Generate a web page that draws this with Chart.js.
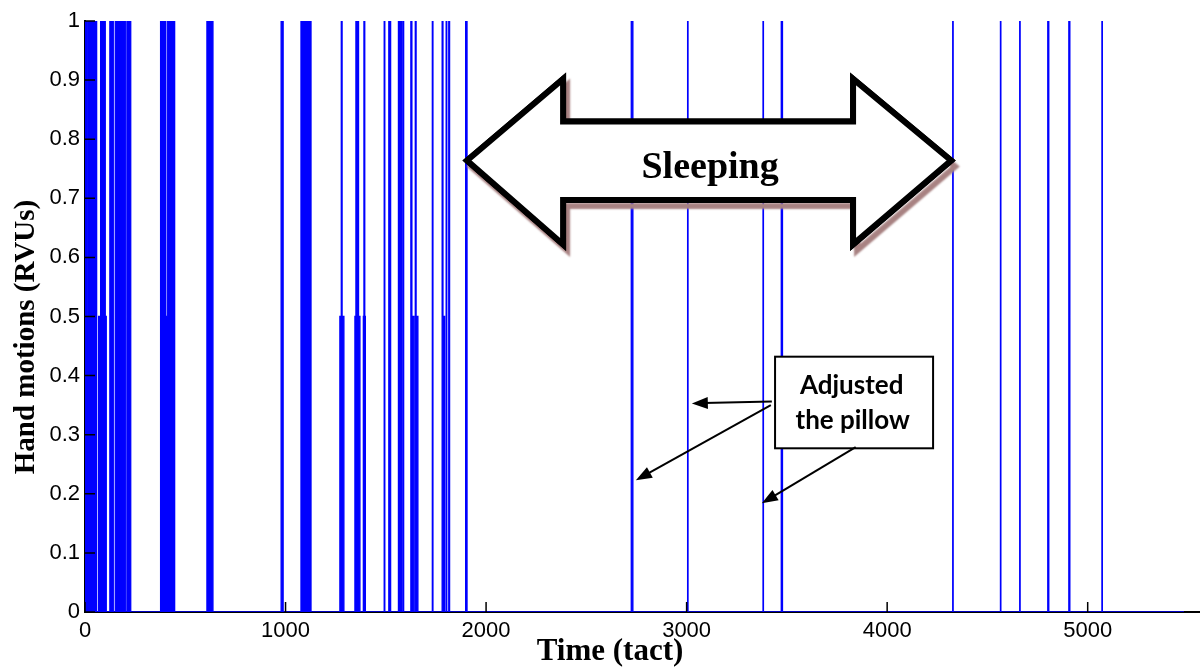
<!DOCTYPE html>
<html>
<head>
<meta charset="utf-8">
<script src="https://cdn.jsdelivr.net/npm/chart.js@4"></script>
<style>
  html, body { margin: 0; padding: 0; background: #fff; }
  #chart { display: block; }
</style>
</head>
<body>
<canvas id="chart" width="1200" height="668"></canvas>
<script>
// Signal: value holds from each time until the next one
const signalTimes = [
  0, 14, 18, 48, 52, 58,
  68, 78, 101, 106,
  124, 141,
  151, 201,
  209, 228,
  377, 401, 410, 447,
  608, 620, 626, 638,
  978, 988,
  1077, 1113,
  1117, 1127,
  1271, 1278, 1282, 1291,
  1346, 1351, 1364, 1371,
  1388, 1391, 1395, 1398,
  1492, 1495,
  1515, 1524,
  1563, 1568, 1573, 1579,
  1586, 1589,
  1625, 1630, 1640,
  1647, 1651, 1660,
  1732, 1735,
  1781, 1785, 1793,
  1801, 1804, 1814, 1818,
  1898, 1905,
  2724, 2732,
  3005, 3007,
  3381, 3383,
  3472, 3478,
  4327, 4329,
  4565, 4567,
  4661, 4663,
  4801, 4806,
  4906, 4911,
  5071, 5073,
  5480
];
const signalValues = [
  1, 0.5, 1, 0.5, 1, 0,
  0.5, 1, 0.5, 0,
  1, 0,
  1, 0,
  1, 0,
  1, 0.5, 1, 0,
  1, 0.5, 1, 0,
  1, 0,
  1, 0,
  1, 0,
  0.5, 1, 0.5, 0,
  0.5, 1, 0.5, 0,
  0.5, 1, 0.5, 0,
  1, 0,
  1, 0,
  1, 0, 1, 0,
  1, 0,
  1, 0.5, 0,
  1, 0.5, 0,
  1, 0,
  1, 0.5, 0,
  1, 0, 1, 0,
  1, 0,
  1, 0,
  1, 0,
  1, 0,
  1, 0,
  1, 0,
  1, 0,
  1, 0,
  1, 0,
  1, 0,
  1, 0,
  0
];

const xTickValues = [0, 1000, 2000, 3000, 4000, 5000];
const yTickValues = [0, 0.1, 0.2, 0.3, 0.4, 0.5, 0.6, 0.7, 0.8, 0.9, 1];

const X_TITLE = 'Time (tact)';
const Y_TITLE = 'Hand motions (RVUs)';
const SLEEP_LABEL = 'Sleeping';
const NOTE_LINES = ['Adjusted', 'the pillow'];

const TICK_FONT = { family: "'Liberation Sans', Arial, sans-serif", size: 22 };

function arrowHead(ctx, x1, y1, x2, y2, len, half) {
  const a = Math.atan2(y2 - y1, x2 - x1);
  ctx.beginPath();
  ctx.moveTo(x2, y2);
  ctx.lineTo(x2 - len * Math.cos(a) + half * Math.sin(a), y2 - len * Math.sin(a) - half * Math.cos(a));
  ctx.lineTo(x2 - len * Math.cos(a) - half * Math.sin(a), y2 - len * Math.sin(a) + half * Math.cos(a));
  ctx.closePath();
  ctx.fill();
}

const annotationPlugin = {
  id: 'annotations',
  afterDatasetsDraw(chart) {
    const { ctx, scales: { x, y } } = chart;
    const px = v => x.getPixelForValue(v);
    const py = v => y.getPixelForValue(v);

    // big double arrow, in data units
    const pts = [
      [1905, 0.764], [2384, 0.902], [2384, 0.830], [3830, 0.830], [3830, 0.902],
      [4319, 0.764], [3830, 0.622], [3830, 0.697], [2384, 0.697], [2384, 0.622]
    ];
    const tracePath = () => {
      ctx.beginPath();
      pts.forEach(([a, b], i) => i ? ctx.lineTo(px(a), py(b)) : ctx.moveTo(px(a), py(b)));
      ctx.closePath();
    };
    ctx.save();
    ctx.lineJoin = 'miter';
    ctx.lineWidth = 6;
    ctx.strokeStyle = '#000';
    ctx.shadowColor = 'rgb(168, 130, 130)';
    ctx.shadowOffsetX = 4;
    ctx.shadowOffsetY = 6;
    ctx.shadowBlur = 2;
    tracePath();
    ctx.stroke();
    ctx.shadowColor = 'transparent';
    ctx.fillStyle = '#fff';
    tracePath();
    ctx.fill();
    ctx.stroke();

    ctx.fillStyle = '#000';
    ctx.font = "bold 38px 'Liberation Serif', 'Times New Roman', serif";
    ctx.textAlign = 'center';
    ctx.textBaseline = 'alphabetic';
    ctx.fillText(SLEEP_LABEL, px(3117), py(0.735));

    // callout box
    const bx1 = px(3441), bx2 = px(4229), by1 = py(0.432), by2 = py(0.277);
    ctx.fillStyle = '#fff';
    ctx.fillRect(bx1, by1, bx2 - bx1, by2 - by1);
    ctx.lineWidth = 2;
    ctx.strokeRect(bx1, by1, bx2 - bx1, by2 - by1);
    ctx.fillStyle = '#000';
    ctx.font = "bold 26px Lato, 'Open Sans', sans-serif";
    ctx.textBaseline = 'middle';
    ctx.fillText(NOTE_LINES[0], px(3823), py(0.383));
    ctx.fillText(NOTE_LINES[1], px(3828), py(0.323));

    // pointer arrows
    const arrows = [
      [3425, 0.356, 3026, 0.353],
      [3420, 0.350, 2747, 0.223],
      [3843, 0.279, 3375, 0.184]
    ];
    ctx.lineWidth = 2;
    arrows.forEach(([a1, b1, a2, b2]) => {
      const x1 = px(a1), y1 = py(b1), x2 = px(a2), y2 = py(b2);
      const ang = Math.atan2(y2 - y1, x2 - x1);
      ctx.beginPath();
      ctx.moveTo(x1, y1);
      ctx.lineTo(x2 - 12 * Math.cos(ang), y2 - 12 * Math.sin(ang));
      ctx.stroke();
      arrowHead(ctx, x1, y1, x2, y2, 16, 6);
    });
    ctx.restore();
  },
  afterDraw(chart) {
    const { ctx, chartArea, scales: { x, y } } = chart;
    ctx.save();
    // MATLAB-style inward ticks
    ctx.strokeStyle = '#000';
    ctx.lineWidth = 1.5;
    ctx.beginPath();
    xTickValues.forEach(v => {
      const p = x.getPixelForValue(v);
      ctx.moveTo(p, chartArea.bottom);
      ctx.lineTo(p, chartArea.bottom - 10);
    });
    yTickValues.forEach(v => {
      const p = y.getPixelForValue(v);
      ctx.moveTo(chartArea.left, p);
      ctx.lineTo(chartArea.left + 10, p);
    });
    ctx.stroke();

    // axis titles
    ctx.fillStyle = '#000';
    ctx.textAlign = 'center';
    ctx.textBaseline = 'middle';
    ctx.font = "bold 31px 'Liberation Serif', 'Times New Roman', serif";
    ctx.fillText(X_TITLE, 610, 652);
    ctx.translate(27, 337);
    ctx.rotate(-Math.PI / 2);
    ctx.font = "bold 29px 'Liberation Serif', 'Times New Roman', serif";
    ctx.fillText(Y_TITLE, 0, 0);
    ctx.restore();
  }
};

window.addEventListener('DOMContentLoaded', () => {
  const points = signalTimes.map((t, i) => ({ x: t, y: signalValues[i] }));
  if (signalTimes.length !== signalValues.length) console.error('length mismatch');

  new Chart(document.getElementById('chart').getContext('2d'), {
    type: 'line',
    data: {
      datasets: [{
        data: points,
        stepped: 'before',
        borderColor: '#0000ff',
        backgroundColor: '#0000ff',
        borderWidth: 1.3,
        fill: 'origin',
        pointRadius: 0,
        tension: 0
      }]
    },
    options: {
      responsive: false,
      animation: false,
      devicePixelRatio: 1,
      layout: { padding: { top: 21, right: 0, left: 0, bottom: 0 } },
      plugins: {
        legend: { display: false },
        tooltip: { enabled: false }
      },
      scales: {
        x: {
          type: 'linear',
          min: 0,
          max: 5560,
          afterBuildTicks: s => { s.ticks = xTickValues.map(v => ({ value: v })); },
          afterFit: s => { s.height = 56; },
          ticks: { font: TICK_FONT, color: '#000', padding: 6, maxRotation: 0, autoSkip: false, callback: v => String(v) },
          grid: { display: false, drawTicks: false },
          border: { color: '#000', width: 2 }
        },
        y: {
          min: 0,
          max: 1,
          afterBuildTicks: s => { s.ticks = yTickValues.map(v => ({ value: v })); },
          afterFit: s => { s.width = 85; },
          ticks: { font: TICK_FONT, color: '#000', padding: 5, callback: v => String(v) },
          grid: { display: false, drawTicks: false },
          border: { color: '#000', width: 2 }
        }
      }
    },
    plugins: [annotationPlugin]
  });
});
</script>
</body>
</html>
